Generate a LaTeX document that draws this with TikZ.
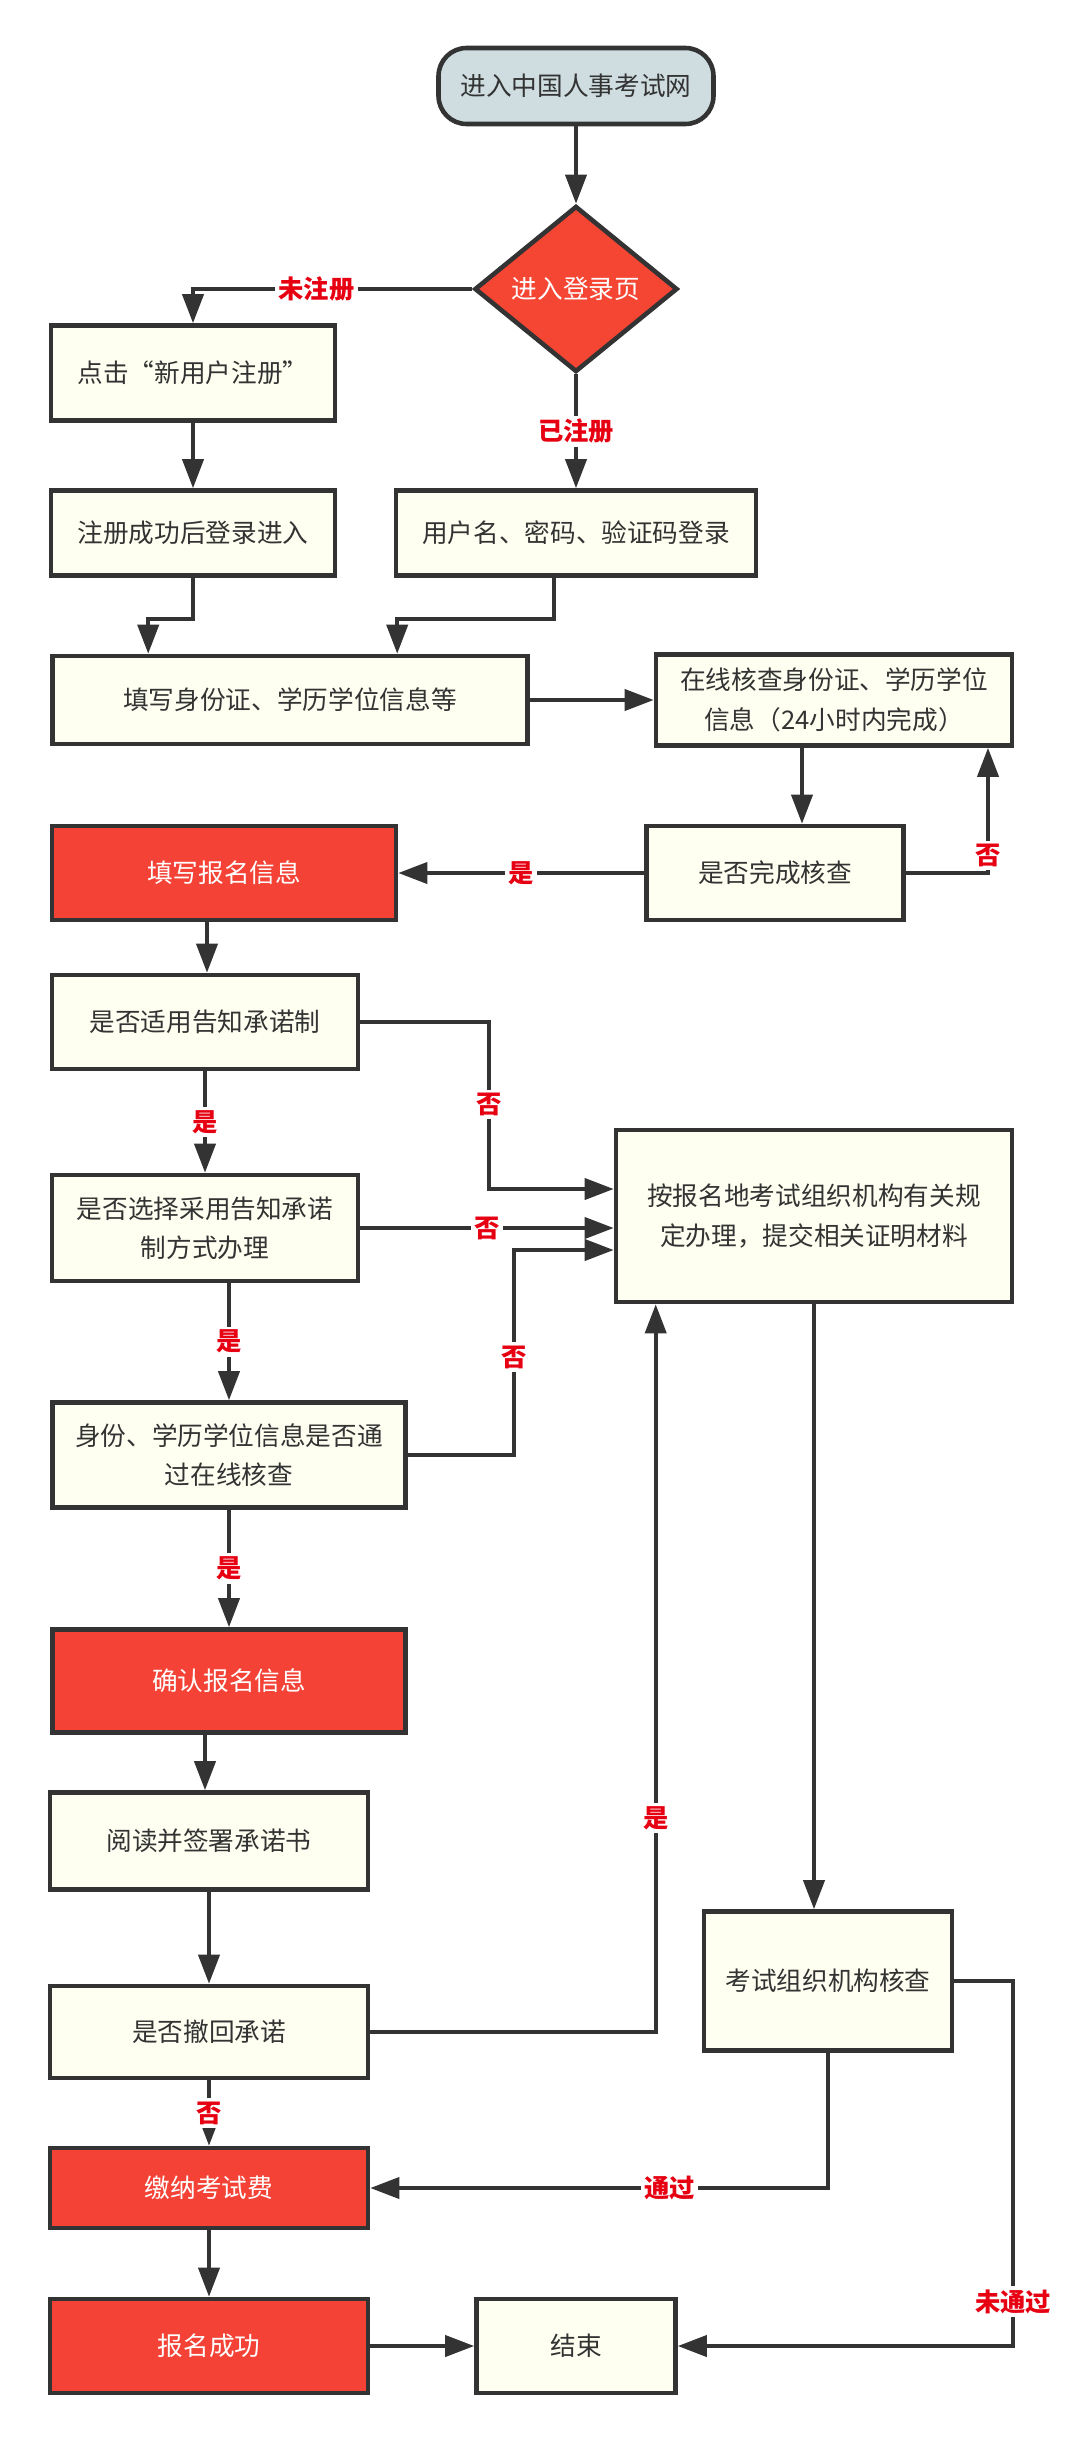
\documentclass[tikz,border=0pt]{standalone}
\usepackage{fontspec}
\setmainfont{Noto Sans CJK SC}
\usepackage{xcolor}
\usepackage{tikz}
\usetikzlibrary{arrows.meta,calc,shapes.geometric}
\definecolor{inkgray}{HTML}{333333}
\definecolor{creamfill}{HTML}{FEFFF0}
\definecolor{hotred}{HTML}{F44336}
\definecolor{startblue}{HTML}{CFDDE0}
\definecolor{labelred}{HTML}{E60012}

\begin{document}
\begin{tikzpicture}[
  font=\fontsize{7.3}{11.2}\selectfont, >={Triangle[length=2.9mm,width=2.1mm]},
  flow/.style={->,draw=inkgray,line width=1.1pt},
  comp/.style={draw=inkgray, line width=1.3pt, fill=creamfill, text=inkgray, align=center, inner sep=1pt},
  hotnode/.style={comp, fill=hotred, text=white},
  startnode/.style={comp, fill=startblue, rounded corners=8pt},
  choice/.style={draw=inkgray, line width=1.3pt, diamond, aspect=1.22, fill=hotred!95!orange, text=white, align=center, inner sep=0pt},
  lab/.style={font=\fontsize{7.2}{9}\selectfont\bfseries, text=labelred, fill=white, inner sep=1pt},
]
\useasboundingbox (0,0) rectangle (10.8,-24.42);
% ---------- TOP: entry and login ----------
\node[startnode, minimum width=2.75cm, minimum height=0.76cm] (start) at (5.76,-0.86) {进入中国人事考试网};
\node[choice, minimum width=2.03cm, minimum height=1.66cm] (login) at (5.76,-2.89) {进入登录页};
\node[comp, minimum width=2.84cm, minimum height=0.95cm] (click) at (1.93,-3.73) {点击“新用户注册”};
\node[comp, minimum width=2.84cm, minimum height=0.85cm] (regok) at (1.93,-5.33) {注册成功后登录进入};
\node[comp, minimum width=3.60cm, minimum height=0.85cm] (pwd) at (5.76,-5.33) {用户名、密码、验证码登录};

% ---------- MIDDLE: identity check and application ----------
\node[comp, minimum width=4.75cm, minimum height=0.88cm] (idform) at (2.90,-7.00) {填写身份证、学历学位信息等};
\node[comp, minimum width=3.56cm, minimum height=0.91cm] (verify) at (8.34,-7.00) {在线核查身份证、学历学位\\信息（24小时内完成）};
\node[comp, minimum width=2.57cm, minimum height=0.94cm] (done) at (7.75,-8.73) {是否完成核查};
\node[hotnode, minimum width=3.44cm, minimum height=0.94cm] (apply) at (2.24,-8.73) {填写报名信息};
\node[comp, minimum width=3.06cm, minimum height=0.94cm] (notice) at (2.05,-10.22) {是否适用告知承诺制};
\node[comp, minimum width=3.06cm, minimum height=1.06cm] (choose) at (2.05,-12.28) {是否选择采用告知承诺\\制方式办理};
\node[comp, minimum width=3.96cm, minimum height=1.72cm] (rules) at (8.14,-12.16) {按报名地考试组织机构有关规\\定办理，提交相关证明材料};
\node[comp, minimum width=3.53cm, minimum height=1.05cm] (online) at (2.29,-14.55) {身份、学历学位信息是否通\\过在线核查};
\node[hotnode, minimum width=3.53cm, minimum height=1.03cm] (confirm) at (2.29,-16.81) {确认报名信息};

% ---------- BOTTOM: pledge, review and payment ----------
\node[comp, minimum width=3.18cm, minimum height=0.97cm] (readsign) at (2.09,-18.41) {阅读并签署承诺书};
\node[comp, minimum width=3.18cm, minimum height=0.92cm] (withdraw) at (2.09,-20.32) {是否撤回承诺};
\node[hotnode, minimum width=3.18cm, minimum height=0.80cm] (pay) at (2.09,-21.88) {缴纳考试费};
\node[hotnode, minimum width=3.18cm, minimum height=0.94cm] (okay) at (2.09,-23.46) {报名成功};
\node[comp, minimum width=1.99cm, minimum height=0.94cm] (finish) at (5.76,-23.46) {结束};
\node[comp, minimum width=2.48cm, minimum height=1.39cm] (review) at (8.28,-19.81) {考试组织机构核查};

% ---------- off-centre ends of the connectors ----------
\coordinate (regdrop) at ($(idform.north west)+(0.98,0)$);
\coordinate (pwddrop) at ($(idform.north west)+(3.47,0)$);
\coordinate (pwdout) at ($(pwd.south)+(-0.22,0)$);
\coordinate (verifyout) at ($(verify.south)+(-0.32,0)$);
\coordinate (verifyin) at ($(verify.south)+(1.54,0)$);
\coordinate (applyout) at ($(apply.south)+(-0.17,0)$);
\coordinate (chooseout) at ($(choose.south)+(0.24,0)$);
\coordinate (rulestop) at ($(rules.west)+(0,0.27)$);
\coordinate (ruleslow) at ($(rules.west)+(0,-0.34)$);
\coordinate (rulesin) at ($(rules.south west)+(0.42,0)$);
\coordinate (confirmout) at ($(confirm.south)+(-0.24,0)$);

% ---------- connectors ----------
\draw[flow] (start) -- (login);
\draw[flow] (login) -| node[lab,pos=.279]{未注册} (click);
\draw[flow] (login) -- node[lab]{已注册} (pwd);
\draw[flow] (click) -- (regok);
\draw[flow] (regok.south) -- ++(0,-0.41) -| (regdrop);
\draw[flow] (pwdout) -- ++(0,-0.41) -| (pwddrop);
\draw[flow] (idform) -- (verify);
\draw[flow] (verifyout) -- (verifyout |- done.north);
\draw[flow] (done.east) -| node[lab,pos=.57]{否} (verifyin);
\draw[flow] (done) -- node[lab]{是} (apply);
\draw[flow] (applyout) -- (applyout |- notice.north);
\draw[flow] (notice) -- node[lab]{是} (choose);
\draw[flow] (notice.east) -- ++(1.29,0) |- node[lab,pos=.247]{否} (rulestop);
\draw[flow] (choose.east) -- node[lab]{否} (choose.east -| rules.west);
\draw[flow] (chooseout) -- node[lab]{是} (chooseout |- online.north);
\draw[flow] (online.east) -- ++(1.06,0) |- node[lab,pos=.239]{否} (ruleslow);
\draw[flow] (online) -- node[lab]{是} (confirm);
\draw[flow] (confirmout) -- (confirmout |- readsign.north);
\draw[flow] (readsign) -- (withdraw);
\draw[flow] (withdraw) -- node[lab]{否} (pay);
\draw[flow] (pay) -- (okay);
\draw[flow] (okay) -- (finish);
\draw[flow] (withdraw.east) -| node[lab,pos=.647]{是} (rulesin);
\draw[flow] (rules.south) -- (rules.south |- review.north);
\draw[flow] (review.south) |- node[lab,pos=.673]{通过} (pay.east);
\draw[flow] (review.east) -- ++(0.59,0) |- node[lab,pos=.439]{未通过} (finish.east);
\end{tikzpicture}
\end{document}
